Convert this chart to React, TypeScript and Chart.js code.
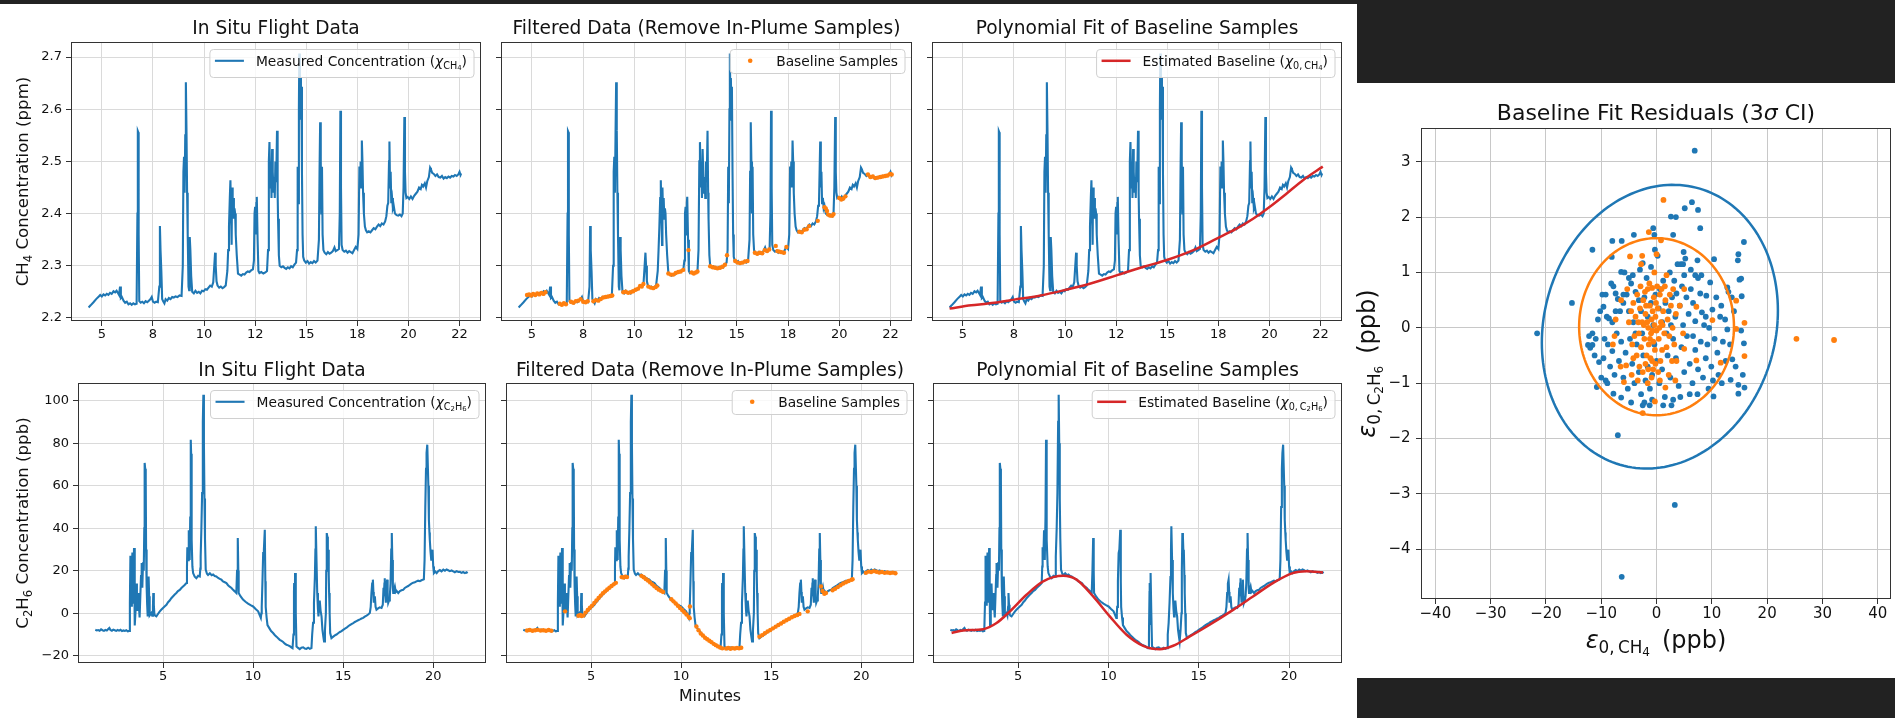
import React, { useEffect, useRef } from 'react';
import { Chart, registerables } from 'chart.js';

Chart.register(...registerables);

const FONT = "'DejaVu Sans', 'Liberation Sans', Arial, sans-serif";
const BLUE = '#1f77b4';
const ORANGE = '#ff7f0e';
const RED = '#d62728';

// ---------------- CH4 (ppm) vs minutes ----------------
const ch4Series: [number, number][] = [
  [4.35, 2.220], [4.45, 2.224], [4.59, 2.230], [4.72, 2.236], [4.85, 2.241], [4.92, 2.244], [5.00, 2.241], [5.08, 2.245],
  [5.16, 2.243], [5.24, 2.246], [5.32, 2.244], [5.40, 2.248], [5.48, 2.246], [5.57, 2.251], [5.65, 2.249], [5.72, 2.252],
  [5.78, 2.248], [5.84, 2.244], [5.89, 2.260], [5.93, 2.238], [5.98, 2.240], [6.06, 2.233], [6.14, 2.229], [6.22, 2.231],
  [6.30, 2.226], [6.38, 2.228], [6.46, 2.225], [6.54, 2.228], [6.62, 2.226], [6.70, 2.227], [6.74, 2.40], [6.76, 2.558],
  [6.78, 2.556], [6.80, 2.36], [6.83, 2.232], [6.90, 2.229], [6.98, 2.231], [7.06, 2.228], [7.14, 2.232], [7.22, 2.230],
  [7.30, 2.233], [7.38, 2.236], [7.44, 2.240], [7.50, 2.231], [7.58, 2.229], [7.66, 2.231], [7.74, 2.230], [7.81, 2.26],
  [7.84, 2.376], [7.87, 2.33], [7.91, 2.29], [7.95, 2.236], [8.00, 2.232], [8.06, 2.228], [8.12, 2.236], [8.20, 2.233],
  [8.28, 2.238], [8.36, 2.236], [8.44, 2.240], [8.52, 2.239], [8.60, 2.241], [8.70, 2.240], [8.80, 2.243], [8.90, 2.242],
  [8.96, 2.30], [8.99, 2.48], [9.02, 2.509], [9.05, 2.44], [9.08, 2.55], [9.11, 2.652], [9.14, 2.56], [9.17, 2.44],
  [9.20, 2.36], [9.24, 2.26], [9.27, 2.253], [9.30, 2.355], [9.33, 2.33], [9.37, 2.28], [9.42, 2.250], [9.50, 2.247],
  [9.58, 2.252], [9.66, 2.248], [9.74, 2.250], [9.82, 2.247], [9.90, 2.252], [9.98, 2.251], [10.06, 2.255], [10.14, 2.254],
  [10.22, 2.258], [10.30, 2.262], [10.38, 2.260], [10.45, 2.268], [10.50, 2.30], [10.54, 2.325], [10.57, 2.30], [10.61, 2.27],
  [10.66, 2.262], [10.74, 2.258], [10.82, 2.260], [10.90, 2.257], [10.98, 2.259], [11.06, 2.262], [11.14, 2.290], [11.18, 2.33],
  [11.22, 2.375], [11.26, 2.43], [11.29, 2.464], [11.32, 2.40], [11.35, 2.34], [11.37, 2.45], [11.40, 2.40], [11.43, 2.43],
  [11.46, 2.39], [11.49, 2.41], [11.52, 2.40], [11.55, 2.36], [11.60, 2.32], [11.66, 2.285], [11.74, 2.283], [11.82, 2.281],
  [11.90, 2.284], [11.98, 2.283], [12.06, 2.287], [12.14, 2.289], [12.22, 2.288], [12.30, 2.291], [12.39, 2.293], [12.44, 2.31],
  [12.47, 2.40], [12.50, 2.413], [12.53, 2.36], [12.56, 2.42], [12.58, 2.432], [12.62, 2.35], [12.66, 2.29], [12.71, 2.286],
  [12.80, 2.288], [12.90, 2.285], [13.00, 2.287], [13.08, 2.290], [13.13, 2.33], [13.17, 2.50], [13.20, 2.537], [13.24, 2.45],
  [13.27, 2.50], [13.30, 2.43], [13.33, 2.524], [13.36, 2.48], [13.40, 2.44], [13.43, 2.47], [13.46, 2.43], [13.49, 2.50],
  [13.53, 2.46], [13.57, 2.559], [13.60, 2.44], [13.62, 2.39], [13.66, 2.32], [13.70, 2.300], [13.78, 2.297], [13.86, 2.299],
  [13.94, 2.296], [14.02, 2.294], [14.10, 2.297], [14.18, 2.295], [14.26, 2.299], [14.34, 2.297], [14.42, 2.302], [14.50, 2.306],
  [14.55, 2.33], [14.58, 2.49], [14.61, 2.42], [14.64, 2.60], [14.66, 2.707], [14.69, 2.60], [14.71, 2.66], [14.74, 2.58],
  [14.76, 2.643], [14.79, 2.48], [14.82, 2.36], [14.85, 2.317], [14.90, 2.310], [14.98, 2.306], [15.06, 2.309], [15.14, 2.304],
  [15.22, 2.307], [15.30, 2.305], [15.38, 2.309], [15.46, 2.306], [15.55, 2.310], [15.62, 2.35], [15.65, 2.48], [15.68, 2.575],
  [15.71, 2.50], [15.74, 2.40], [15.77, 2.49], [15.80, 2.36], [15.84, 2.330], [15.90, 2.325], [15.98, 2.322], [16.06, 2.326],
  [16.14, 2.323], [16.22, 2.325], [16.30, 2.328], [16.38, 2.335], [16.44, 2.328], [16.52, 2.330], [16.60, 2.332], [16.64, 2.40],
  [16.67, 2.597], [16.70, 2.45], [16.73, 2.34], [16.78, 2.330], [16.86, 2.327], [16.94, 2.329], [17.02, 2.325], [17.10, 2.328],
  [17.18, 2.326], [17.26, 2.324], [17.34, 2.330], [17.42, 2.336], [17.50, 2.332], [17.56, 2.36], [17.60, 2.49], [17.63, 2.46],
  [17.66, 2.50], [17.69, 2.45], [17.72, 2.54], [17.75, 2.50], [17.78, 2.44], [17.82, 2.40], [17.87, 2.375], [17.92, 2.368],
  [17.98, 2.364], [18.06, 2.366], [18.14, 2.364], [18.22, 2.368], [18.30, 2.372], [18.38, 2.370], [18.46, 2.375], [18.54, 2.379],
  [18.62, 2.376], [18.70, 2.381], [18.78, 2.379], [18.86, 2.385], [18.92, 2.395], [18.97, 2.415], [19.01, 2.42], [19.05, 2.50],
  [19.07, 2.538], [19.10, 2.45], [19.13, 2.48], [19.16, 2.42], [19.20, 2.43], [19.24, 2.41], [19.28, 2.415], [19.34, 2.400],
  [19.42, 2.397], [19.50, 2.396], [19.58, 2.398], [19.66, 2.395], [19.72, 2.400], [19.76, 2.45], [19.80, 2.585], [19.83, 2.48],
  [19.86, 2.44], [19.90, 2.43], [19.96, 2.432], [20.04, 2.428], [20.12, 2.433], [20.20, 2.428], [20.28, 2.434], [20.36, 2.438],
  [20.44, 2.442], [20.52, 2.450], [20.60, 2.447], [20.66, 2.455], [20.72, 2.452], [20.80, 2.458], [20.86, 2.450], [20.92, 2.462],
  [21.00, 2.470], [21.06, 2.488], [21.10, 2.485], [21.16, 2.478], [21.24, 2.476], [21.32, 2.472], [21.40, 2.475], [21.48, 2.470],
  [21.56, 2.469], [21.64, 2.472], [21.72, 2.467], [21.80, 2.470], [21.88, 2.468], [21.96, 2.471], [22.04, 2.469], [22.12, 2.472],
  [22.20, 2.471], [22.28, 2.474], [22.36, 2.472], [22.44, 2.475], [22.50, 2.480], [22.55, 2.474], [22.58, 2.477],
];

const ch4Baseline: [number, number][] = [
  [4.76, 2.244], [4.86, 2.245], [4.96, 2.243], [5.06, 2.246], [5.16, 2.244], [5.26, 2.247], [5.36, 2.245], [5.46, 2.248],
  [5.56, 2.246], [5.66, 2.249], [6.36, 2.227], [6.46, 2.225], [6.56, 2.228], [6.66, 2.226], [6.90, 2.231], [7.02, 2.229],
  [7.14, 2.232], [7.26, 2.233], [7.38, 2.236], [7.50, 2.231], [7.62, 2.230], [7.72, 2.232], [8.00, 2.232], [8.12, 2.234],
  [8.24, 2.233], [8.36, 2.236], [8.48, 2.239], [8.60, 2.240], [8.72, 2.241], [8.84, 2.242], [8.92, 2.243], [9.46, 2.249],
  [9.58, 2.250], [9.70, 2.248], [9.82, 2.249], [9.94, 2.251], [10.06, 2.254], [10.18, 2.256], [10.28, 2.261], [10.36, 2.260],
  [10.44, 2.265], [10.68, 2.260], [10.80, 2.258], [10.92, 2.257], [11.04, 2.259], [11.12, 2.262], [11.66, 2.285], [11.78, 2.283],
  [11.90, 2.283], [12.02, 2.286], [12.14, 2.288], [12.26, 2.289], [12.38, 2.292], [12.64, 2.330], [12.80, 2.287], [12.90, 2.285],
  [13.00, 2.287], [13.08, 2.289], [13.70, 2.299], [13.82, 2.297], [13.94, 2.296], [14.06, 2.295], [14.18, 2.296], [14.30, 2.298],
  [14.42, 2.302], [14.52, 2.320], [14.92, 2.309], [15.04, 2.306], [15.16, 2.305], [15.28, 2.306], [15.40, 2.308], [15.52, 2.309],
  [15.88, 2.325], [16.00, 2.323], [16.12, 2.325], [16.24, 2.324], [16.36, 2.330], [16.48, 2.328], [16.58, 2.331], [16.90, 2.338],
  [16.98, 2.328], [17.08, 2.327], [17.18, 2.326], [17.30, 2.325], [17.42, 2.336], [18.05, 2.365], [18.17, 2.364], [18.29, 2.369],
  [18.41, 2.370], [18.53, 2.376], [18.95, 2.386], [19.28, 2.412], [19.34, 2.410], [19.40, 2.405], [19.46, 2.398], [19.56, 2.396],
  [19.66, 2.396], [19.72, 2.399], [20.00, 2.430], [20.10, 2.427], [20.20, 2.429], [20.30, 2.433], [21.40, 2.475], [21.52, 2.470],
  [21.64, 2.471], [21.76, 2.468], [21.88, 2.469], [22.00, 2.470], [22.12, 2.471], [22.24, 2.472], [22.36, 2.473], [22.48, 2.476],
  [22.56, 2.475],
];

const ch4Fit: [number, number][] = [
  [4.35, 2.218], [5.41, 2.224], [6.22, 2.2275], [7.52, 2.235], [8.81, 2.243], [9.95, 2.253], [11.25, 2.266], [12.55, 2.282],
  [13.85, 2.298], [14.98, 2.311], [16.28, 2.330], [17.42, 2.352], [18.39, 2.371], [19.20, 2.390], [20.02, 2.413], [20.83, 2.438],
  [21.64, 2.464], [22.61, 2.490],
];

// ---------------- C2H6 (ppb) vs minutes ----------------
const c2h6Series: [number, number][] = [
  [1.24, -7.8], [1.32, -8.1], [1.40, -7.9], [1.48, -8.2], [1.56, -7.6], [1.64, -8.0], [1.72, -8.3], [1.80, -7.8], [1.88, -8.1],
  [1.96, -7.4], [2.02, -6.9], [2.08, -7.9], [2.16, -8.2], [2.24, -7.7], [2.32, -8.0], [2.40, -8.3], [2.48, -7.9], [2.56, -8.2],
  [2.64, -7.8], [2.72, -8.4], [2.80, -8.1], [2.88, -8.3], [2.96, -8.0], [3.04, -8.5], [3.12, -8.3], [3.16, 5], [3.19, 27],
  [3.22, 10], [3.24, 3.5], [3.27, 20], [3.30, 28.6], [3.33, 12], [3.35, 5], [3.37, 22], [3.39, 30.7], [3.42, 8], [3.44, -5.7],
  [3.48, 2], [3.52, 14], [3.55, 6], [3.57, 1.5], [3.60, 5], [3.63, 9.5], [3.66, 4], [3.70, -2], [3.74, 8], [3.78, 18],
  [3.80, 23.6], [3.83, 15], [3.85, 12], [3.89, 24], [3.93, 20], [3.96, 40], [3.98, 70.7], [4.01, 68], [4.04, 62.8], [4.06, 30],
  [4.09, 12.6], [4.12, 4], [4.15, -1.5], [4.18, 5], [4.20, 17.3], [4.23, 8], [4.26, -1], [4.30, -0.5], [4.35, 0.1], [4.40, -1.2],
  [4.44, 3], [4.46, 9.5], [4.49, 4], [4.52, -0.5], [4.57, -1.2], [4.63, -1.5], [4.70, -0.6], [4.81, 0.8], [4.90, 1.6], [5.00, 2.5],
  [5.10, 3.3], [5.19, 4.0], [5.28, 5.2], [5.37, 6.0], [5.46, 7.1], [5.56, 8.0], [5.65, 8.8], [5.74, 9.5], [5.83, 10.4], [5.93, 11.0],
  [6.02, 11.9], [6.11, 12.6], [6.20, 13.3], [6.30, 14.2], [6.33, 22], [6.35, 31], [6.39, 25], [6.43, 39], [6.46, 28], [6.48, 25],
  [6.51, 45], [6.54, 81.6], [6.56, 75], [6.59, 34.6], [6.63, 22], [6.67, 18.9], [6.76, 17.2], [6.85, 16.5], [6.95, 17.6], [7.04, 17.3],
  [7.07, 21], [7.09, 26.7], [7.13, 40], [7.17, 56.5], [7.21, 90], [7.24, 102.8], [7.27, 80], [7.30, 54], [7.33, 35], [7.37, 20.5],
  [7.44, 18.6], [7.50, 18.0], [7.60, 18.8], [7.70, 17.9], [7.78, 18.2], [7.87, 17.5], [7.96, 17.3], [8.06, 16.6], [8.15, 16.2],
  [8.24, 15.8], [8.33, 15.0], [8.43, 14.6], [8.52, 14.2], [8.61, 13.2], [8.70, 12.5], [8.80, 11.9], [8.89, 11.0], [8.98, 10.3],
  [9.07, 9.5], [9.11, 20], [9.15, 35.4], [9.18, 20], [9.20, 9.5], [9.30, 8.0], [9.44, 6.4], [9.58, 5.4], [9.72, 4.5], [9.86, 3.8],
  [10.00, 3.2], [10.14, 2.0], [10.28, 0.9], [10.36, -0.8], [10.43, -2.2], [10.46, 0], [10.48, 3], [10.52, 15], [10.56, 28.3],
  [10.60, 30], [10.65, 39.3], [10.68, 15], [10.70, 3], [10.75, -2], [10.80, -5.6], [10.90, -7.0], [11.00, -8.4], [11.11, -9.3],
  [11.20, -10.2], [11.30, -11.0], [11.39, -11.8], [11.48, -12.5], [11.58, -13.0], [11.67, -13.5], [11.76, -14.3], [11.85, -14.8],
  [11.95, -15.1], [12.04, -15.5], [12.12, -16.0], [12.19, -16.4], [12.24, -10], [12.27, 10], [12.28, 14.2], [12.31, -5],
  [12.33, 18.9], [12.37, 0], [12.41, -15.6], [12.50, -16.3], [12.59, -16.9], [12.68, -16.2], [12.78, -16.0], [12.87, -16.6],
  [12.96, -16.8], [13.06, -16.2], [13.15, -16.7], [13.24, -16.4], [13.28, -10], [13.33, -4.5], [13.38, 5], [13.43, 17],
  [13.46, 30], [13.48, 40.9], [13.52, 25], [13.56, 9.5], [13.60, 2], [13.63, -1.5], [13.66, 3], [13.70, 6], [13.75, 1],
  [13.80, -1.5], [13.85, -7.8], [13.90, -11], [13.94, -13.3], [13.99, -8], [14.04, 0], [14.06, 20], [14.09, 37.7], [14.12, 36],
  [14.15, 28], [14.17, 29.9], [14.20, 18], [14.22, 9.5], [14.25, 0], [14.28, -9.3], [14.35, -11.7], [14.45, -11.0], [14.54, -10.4],
  [14.63, -10.0], [14.72, -9.4], [14.82, -8.8], [14.91, -8.4], [15.00, -7.8], [15.10, -7.2], [15.19, -6.8], [15.28, -6.1],
  [15.37, -5.6], [15.46, -5.1], [15.56, -4.6], [15.65, -4.1], [15.74, -3.7], [15.83, -3.3], [15.93, -2.9], [16.02, -2.5],
  [16.11, -2.2], [16.20, -1.6], [16.30, -1.1], [16.39, -0.6], [16.48, 0.1], [16.53, 3], [16.57, 9.5], [16.61, 14], [16.65, 15.8],
  [16.68, 10], [16.70, 5], [16.73, 7], [16.76, 8], [16.80, 3], [16.85, 1.7], [16.94, 2.3], [17.03, 2.8], [17.13, 2.5], [17.20, 4],
  [17.24, 12], [17.26, 8], [17.29, 14], [17.31, 16.5], [17.34, 9], [17.37, 5], [17.40, 10], [17.44, 15.8], [17.47, 8], [17.50, 4.8],
  [17.55, 6], [17.59, 8], [17.63, 14], [17.67, 30], [17.70, 37.7], [17.73, 25], [17.76, 12], [17.78, 9.5], [17.82, 11], [17.87, 12.6],
  [17.92, 10], [17.97, 10.5], [18.06, 9.5], [18.15, 10.4], [18.24, 10.8], [18.33, 11], [18.42, 11.9], [18.52, 12.4], [18.61, 12.8],
  [18.70, 13.4], [18.79, 13.9], [18.89, 14.4], [18.98, 14.6], [19.07, 15.0], [19.16, 15.3], [19.26, 15.1], [19.35, 15.5],
  [19.42, 15.8], [19.48, 16.0], [19.52, 25], [19.56, 50], [19.60, 68], [19.63, 75.4], [19.67, 79.3], [19.70, 79.3], [19.73, 60],
  [19.76, 44], [19.79, 38], [19.81, 34.6], [19.85, 29], [19.89, 25.2], [19.92, 27], [19.96, 29.9], [20.00, 22], [20.04, 18.9],
  [20.12, 19.6], [20.19, 18.9], [20.28, 19.8], [20.37, 20.3], [20.46, 19.7], [20.56, 20.5], [20.65, 20.0], [20.74, 20.6],
  [20.83, 20.2], [20.92, 19.8], [21.02, 20.1], [21.11, 19.7], [21.20, 19.3], [21.30, 19.8], [21.39, 19.4], [21.48, 19.5],
  [21.57, 19.0], [21.66, 19.4], [21.76, 18.9], [21.85, 19.3], [21.91, 18.9],
];

const c2h6Baseline: [number, number][] = [
  [1.45, -8.1], [1.60, -7.9], [1.75, -8.2], [1.90, -8.0], [2.05, -7.8], [2.20, -8.1], [2.35, -8.0], [2.50, -8.2], [2.65, -7.9],
  [2.80, -8.2], [3.56, 0.9], [4.30, -1.2], [4.40, -0.8], [4.48, -1.3], [4.58, -1.0], [4.70, 0.3], [4.82, 1.5], [4.94, 2.6],
  [5.06, 3.6], [5.18, 4.8], [5.30, 6.0], [5.42, 7.2], [5.54, 8.3], [5.66, 9.4], [5.78, 10.3], [5.90, 11.2], [6.02, 12.0],
  [6.14, 12.8], [6.26, 13.6], [6.38, 14.3], [6.70, 17.0], [6.80, 16.8], [6.90, 17.2], [7.00, 17.0], [7.80, 17.6], [7.92, 16.9],
  [8.04, 16.1], [8.16, 15.4], [8.28, 14.5], [8.40, 13.6], [8.52, 12.7], [8.64, 11.9], [8.76, 11.1], [8.88, 10.6], [9.00, 10.0],
  [9.46, 6.6], [9.58, 5.6], [9.70, 4.6], [9.82, 3.5], [9.94, 2.5], [10.06, 1.5], [10.18, 0.5], [10.30, -0.6], [10.42, -1.7],
  [10.48, -2.3], [10.49, 3.2], [10.85, -6.2], [10.97, -8.0], [11.09, -9.5], [11.21, -10.5], [11.33, -11.5], [11.45, -12.2],
  [11.57, -12.9], [11.69, -13.6], [11.81, -14.4], [11.93, -15.0], [12.05, -15.6], [12.17, -16.1], [12.29, -16.5], [12.50, -16.6],
  [12.62, -16.3], [12.74, -16.7], [12.86, -16.4], [12.98, -16.6], [13.10, -16.3], [13.22, -16.5], [13.34, -16.2], [14.35, -11.0],
  [14.50, -10.3], [14.65, -9.4], [14.80, -8.6], [14.95, -7.9], [15.10, -7.1], [15.25, -6.3], [15.40, -5.5], [15.55, -4.8],
  [15.70, -4.0], [15.85, -3.3], [16.00, -2.6], [16.15, -1.9], [16.30, -1.3], [16.45, -0.8], [16.57, -0.3], [17.03, 0.9],
  [17.77, 12.6], [17.85, 10.5], [17.95, 9.2], [18.04, 9.5], [18.41, 10.8], [18.55, 11.5], [18.70, 12.3], [18.85, 13.2],
  [19.00, 14.0], [19.15, 14.6], [19.30, 15.2], [19.45, 15.7], [19.52, 16.0], [20.26, 19.0], [20.40, 19.6], [20.55, 19.4],
  [20.70, 19.8], [20.85, 19.5], [21.00, 19.2], [21.15, 19.4], [21.30, 19.0], [21.45, 19.2], [21.60, 18.9], [21.75, 19.1],
  [21.90, 18.8],
];

const c2h6Fit: [number, number][] = [
  [1.31, -9.3], [1.95, -8.1], [3.06, -7.5], [3.80, -4.6], [4.54, 0.9], [5.46, 8.7], [6.38, 15.0], [7.49, 17.6], [8.23, 15.8],
  [9.15, 7.9], [10.07, -1.5], [11.00, -10.1], [11.92, -15.3], [12.84, -16.9], [13.58, -15.3], [14.50, -10.9], [15.60, -5.4],
  [16.90, 1.6], [18.00, 7.9], [19.10, 14.2], [20.20, 18.9], [20.96, 19.7], [21.88, 19.2],
];

// ---------------- residuals (CH4 ppb, C2H6 ppb) ----------------
const residualsBlue: [number, number][] = [
  [6.9, 3.2], [6.4, 2.27], [5.1, 2.16], [7.5, 2.13], [2.6, 2.01], [3.5, 2.0], [7.9, 1.8], [-0.6, 1.8], [3.0, 1.68], [-4.1, 1.68],
  [-0.4, 1.68], [-8, 1.57], [-6.3, 1.57], [15.8, 1.55], [-11.6, 1.41], [-0.3, 1.41], [4.9, 1.37], [14.8, 1.33], [14.7, 1.22],
  [10.4, 1.24], [7.4, 1.22], [4.4, 1.15], [4.8, 1.15], [-2.5, 1.17], [-8.1, 1.28], [-6.4, 1.01], [15, 0.87], [15.3, 0.89],
  [12.8, 0.73], [15.4, 0.57], [9.7, 0.82], [-15.3, 0.45], [-21.6, -0.1], [-12.4, -0.31], [-11.6, -0.31], [-12, -0.36],
  [-10.8, -1.07], [14.8, -1.19], [10.3, -1.24], [7.4, -1.2], [14.8, -1.03], [15.8, -0.28], [15.3, -0.05], [2.7, -1.4],
  [-2.5, -1.4], [-1.25, -1.4], [-6.4, -1.26], [-7.8, -1.19], [-7, -1.94], [3.3, -3.2], [-6.3, -4.5], [13.4, -0.94],
  [13.7, -0.57], [12.8, -0.03], [-11.6, -0.1], [-11.0, -0.2], [-12.2, -0.15], [-9.8, 0.6], [-9.2, 0.6], [-9.6, 0.38],
  [-9.0, 0.2], [-8.6, 0.17], [-8.2, 0.8], [-7.8, 0.75], [-7.4, 0.62], [-7.0, 0.52], [-6.6, 0.3], [-6.0, 0.45], [-5.4, 0.6],
  [-5.0, 0.9], [-4.6, 0.8], [-4.3, 0.95], [-3.8, 0.65], [-3.2, 0.5], [-2.8, 0.3], [-2.2, 0.55], [-1.6, 0.2], [-1.0, 0.45],
  [-0.2, 0.6], [0.4, 0.35], [1.0, 0.1], [1.8, -0.1], [2.2, 0.3], [2.8, 0.55], [3.2, 0.85], [3.6, 0.62], [4.2, 0.4], [4.6, 0.75],
  [5.0, 0.95], [5.4, 0.55], [5.8, 0.25], [6.2, 0.7], [6.6, 0.45], [7.0, 0.12], [7.5, 0.9], [7.9, 0.62], [8.2, 0.28], [8.6, 0.05],
  [9.0, 0.58], [9.5, 0.0], [10.1, 0.33], [10.5, -0.2], [11.0, -0.45], [11.5, 0.2], [12.0, -0.25], [12.5, -0.6], [13.0, 0.65],
  [13.3, -0.3], [14.0, 0.3], [14.3, -0.7], [15.6, -0.85], [15.9, -1.08], [-10.4, -0.62], [-10.0, -0.9], [-9.6, -0.55],
  [-9.2, -0.95], [-8.8, -0.3], [-8.4, -0.7], [-8.0, -0.42], [-7.6, -0.85], [-7.2, -0.1], [-6.8, -0.6], [-6.4, -0.25], [-6.0, -0.9],
  [-5.6, -0.45], [-5.2, -1.1], [-4.8, -0.2], [-4.4, -0.65], [-4.0, -1.0], [-3.6, -0.3], [-3.2, -0.8], [-2.8, -1.2], [-2.4, -0.5],
  [-2.0, -0.95], [-1.6, -0.7], [-1.2, -1.1], [-0.8, -0.85], [-0.4, -0.3], [0.0, -0.6], [0.5, -1.0], [1.0, -0.75], [1.5, -1.25],
  [2.0, -0.5], [2.5, -0.9], [3.0, -0.2], [3.5, -0.55], [4.0, -1.05], [4.5, -0.35], [5.0, -0.8], [5.5, -0.15], [6.0, -0.65],
  [6.5, -1.0], [7.0, -0.4], [7.5, -0.75], [8.0, -0.25], [8.4, -0.9], [8.9, -0.55], [9.4, -1.1], [9.9, -0.7], [10.2, -0.95],
  [11.2, -0.85], [11.8, -1.0], [-11.2, -0.5], [-10.6, 0.15], [-10.2, 0.3], [-9.4, -0.2], [-8.0, 0.1], [-7.4, 0.3], [-5.8, 1.0],
  [-5.0, 0.3], [-4.2, 0.1], [-3.0, 1.05], [-1.8, 0.9], [-1.0, 1.1], [0.2, 1.3], [1.2, 0.85], [2.4, 1.0], [3.8, 1.15], [5.2, 1.25],
  [6.2, 1.05], [7.0, 0.95], [8.1, 0.95], [8.9, 0.2], [9.2, -0.3], [10.8, 0.55], [11.7, 0.4], [12.4, 0.15], [13.6, 0.55],
  [-2.2, -1.35], [-0.8, -1.3], [1.2, -1.4], [3.0, -1.3], [4.3, -1.25], [6.0, -1.2], [-4.6, -1.35], [-8.9, -1.0], [-6.0, 0.6],
  [-3.8, -0.1], [0.6, 0.7], [2.6, 0.05], [4.8, 0.05], [6.6, -0.15], [-0.6, 0.05], [-2.6, -0.1], [1.6, 0.45], [3.4, 0.2],
];

const residualsOrange: [number, number][] = [
  [25.3, -0.2], [32.1, -0.22], [1.25, 2.31], [-1.4, 1.73], [0.8, 1.58], [0, 1.33], [-4.8, 1.29], [-2.8, 1.15], [15.9, 0.09],
  [15.9, -0.51], [14.4, 0.49], [11.6, -0.63], [14.4, -0.02], [10.1, 0.14], [-2.5, -1.54], [1.6, -1.08], [-0.3, -1.33],
  [-5.9, -0.98], [5.0, 0.7], [7.2, 0.38], [5.0, -0.38], [7.2, -0.59], [-7.4, 0.15], [-6.4, 0.5], [-7.6, -0.15], [-5.5, -0.68],
  [-4.5, -0.85], [3.6, -0.6], [2.2, -0.85], [-4.2, 0.45], [-3.8, 0.2], [-3.5, 0.6], [-3.2, -0.1], [-3.0, 0.35], [-2.8, -0.35],
  [-2.6, 0.1], [-2.4, 0.5], [-2.2, -0.2], [-2.0, 0.25], [-1.8, -0.5], [-1.6, 0.7], [-1.5, 0.0], [-1.4, -0.3], [-1.2, 0.4],
  [-1.0, -0.1], [-0.9, 0.15], [-0.8, -0.6], [-0.7, 0.3], [-0.6, -0.25], [-0.5, 0.55], [-0.4, 0.05], [-0.3, -0.4], [-0.2, 0.2],
  [0.0, -0.05], [0.2, 0.35], [0.4, -0.2], [0.6, 0.6], [0.8, 0.1], [1.0, -0.4], [1.2, 0.3], [1.4, -0.1], [1.6, 0.5], [1.8, -0.35],
  [2.0, 0.15], [2.3, -0.15], [2.6, 0.4], [2.9, 0.0], [3.2, -0.3], [3.5, 0.25], [-3.6, -0.5], [-3.1, -0.7], [-2.5, -0.8],
  [-2.0, -0.65], [-1.5, -0.75], [-1.1, -0.55], [-0.6, -0.75], [-0.2, -0.65], [0.3, -0.8], [0.7, -0.6], [-2.9, 0.75], [-2.1, 0.65],
  [-1.3, 0.8], [-0.8, 0.72], [0.1, 0.75], [0.9, 0.7], [1.5, 0.75], [-4.4, -0.3], [-4.0, -0.15], [-1.7, 0.1], [-0.1, 0.45],
  [0.5, 0.0], [-2.3, 0.05], [-1.2, -0.2], [1.1, 0.05], [-0.7, -0.05], [-1.9, 0.4], [-3.3, 0.1], [2.4, 0.6], [-5.0, 0.1],
  [-4.6, 0.3], [-1.6, -1.0], [-0.9, -0.9], [0.6, -0.95], [-3.4, -0.95], [2.8, -0.6], [4.2, 0.4], [3.0, 0.7], [-5.3, 0.7],
  [-2.6, 1.3], [1.8, 0.95], [-0.4, 1.0], [4.8, -0.1], [-6.5, -0.7], [3.4, -0.95], [-7.9, -0.3], [-4.2, -0.55],
];

// 3-sigma confidence ellipses: [blue, orange]
const ellipseColors = [BLUE, ORANGE];
const ellipseCenterX = [0.6, 0.0];
const ellipseCenterY = [0.02, 0.02];
const ellipseHalfX = [21.3, 14.0];
const ellipseHalfY = [2.56, 1.6];
const ellipseSkewX = [1.4, 0.0];
const ellipseSkewY = [0.12, 0.0];

// ---------------- ticks ----------------
const topXTicks = [5, 7.5, 10, 12.5, 15, 17.5, 20, 22.5];
const topXLabels = ['5', '8', '10', '12', '15', '18', '20', '22'];
const topYTicks = [2.2, 2.3, 2.4, 2.5, 2.6, 2.7];
const topYLabels = ['2.2', '2.3', '2.4', '2.5', '2.6', '2.7'];
const botXTicks = [5, 10, 15, 20];
const botXLabels = ['5', '10', '15', '20'];
const botYTicks = [-20, 0, 20, 40, 60, 80, 100];
const botYLabels = ['\u221220', '0', '20', '40', '60', '80', '100'];
const resXTicks = [-40, -30, -20, -10, 0, 10, 20, 30, 40];
const resXLabels = ['\u221240', '\u221230', '\u221220', '\u221210', '0', '10', '20', '30', '40'];
const resYTicks = [-4, -3, -2, -1, 0, 1, 2, 3];
const resYLabels = ['\u22124', '\u22123', '\u22122', '\u22121', '0', '1', '2', '3'];

// ---------------- rich text ----------------
type Seg = { t: string; s?: number; dy?: number; it?: boolean };
const fontStr = (size: number, it?: boolean) => `${it ? 'italic ' : ''}${size}px ${FONT}`;

function richWidth(ctx: CanvasRenderingContext2D, segs: Seg[], size: number) {
  let w = 0;
  for (const s of segs) {
    ctx.font = fontStr(size * (s.s ?? 1), s.it);
    w += ctx.measureText(s.t).width;
  }
  return w;
}

function drawRich(ctx: CanvasRenderingContext2D, segs: Seg[], x: number, y: number, size: number, align: 'left' | 'center', color = '#111') {
  const w = richWidth(ctx, segs, size);
  let cx = align === 'center' ? x - w / 2 : x;
  const base = y + size * 0.36;
  ctx.fillStyle = color;
  ctx.textAlign = 'left';
  ctx.textBaseline = 'alphabetic';
  for (const s of segs) {
    ctx.font = fontStr(size * (s.s ?? 1), s.it);
    ctx.fillText(s.t, cx, base + size * (s.dy ?? 0));
    cx += ctx.measureText(s.t).width;
  }
}

const SUB = 0.7, SUBSUB = 0.5, D1 = 0.22, D2 = 0.34;
const legMeasuredCH4: Seg[] = [{ t: 'Measured Concentration (' }, { t: '\u03c7', it: true }, { t: 'CH', s: SUB, dy: D1 }, { t: '4', s: SUBSUB, dy: D2 }, { t: ')' }];
const legMeasuredC2H6: Seg[] = [{ t: 'Measured Concentration (' }, { t: '\u03c7', it: true }, { t: 'C', s: SUB, dy: D1 }, { t: '2', s: SUBSUB, dy: D2 }, { t: 'H', s: SUB, dy: D1 }, { t: '6', s: SUBSUB, dy: D2 }, { t: ')' }];
const legBaseline: Seg[] = [{ t: 'Baseline Samples' }];
const legEstCH4: Seg[] = [{ t: 'Estimated Baseline (' }, { t: '\u03c7', it: true }, { t: '0,\u2009CH', s: SUB, dy: D1 }, { t: '4', s: SUBSUB, dy: D2 }, { t: ')' }];
const legEstC2H6: Seg[] = [{ t: 'Estimated Baseline (' }, { t: '\u03c7', it: true }, { t: '0,\u2009C', s: SUB, dy: D1 }, { t: '2', s: SUBSUB, dy: D2 }, { t: 'H', s: SUB, dy: D1 }, { t: '6', s: SUBSUB, dy: D2 }, { t: ')' }];
const yLabCH4: Seg[] = [{ t: 'CH' }, { t: '4', s: SUB, dy: 0.2 }, { t: ' Concentration (ppm)' }];
const yLabC2H6: Seg[] = [{ t: 'C' }, { t: '2', s: SUB, dy: 0.2 }, { t: 'H' }, { t: '6', s: SUB, dy: 0.2 }, { t: ' Concentration (ppb)' }];
const xLabMinutes: Seg[] = [{ t: 'Minutes' }];
const resYLab: Seg[] = [{ t: '\u03b5', it: true }, { t: '0,\u2009C', s: SUB, dy: D1 }, { t: '2', s: SUBSUB, dy: D2 }, { t: 'H', s: SUB, dy: D1 }, { t: '6', s: SUBSUB, dy: D2 }, { t: '\u2002(ppb)' }];
const resXLab: Seg[] = [{ t: '\u03b5', it: true }, { t: '0,\u2009CH', s: SUB, dy: D1 }, { t: '4', s: SUBSUB, dy: D2 }, { t: '\u2002(ppb)' }];
const resTitle: Seg[] = [{ t: 'Baseline Fit Residuals (3' }, { t: '\u03c3', it: true }, { t: ' CI)' }];

// ---------------- panel configs ----------------
type Legend = { segs: Seg[]; kind: 'line' | 'dot'; color: string; h: number; lw?: number };
type PanelCfg = {
  key: string;
  area: [number, number, number, number];
  margins: [number, number, number, number];
  x: [number, number, number[], string[]];
  y: [number, number, number[], string[]];
  showY: boolean;
  datasets: any[];
  title: Seg[]; titleSize: number; titleGap: number;
  ylabel?: Seg[]; ylabelSize?: number; ylabelGap?: number;
  xlabel?: Seg[]; xlabelSize?: number; xlabelGap?: number;
  legend?: Legend;
  ellipses?: boolean;
  tickSize: number; grid: string; xPad: number; yPad: number; chartType: any;
};

const pts = (arr: [number, number][]) => arr.map(([x, y]) => ({ x, y }));
const blueLine = (arr: [number, number][]) => ({ type: 'line', data: pts(arr), borderColor: BLUE, borderWidth: 2.1, pointRadius: 0, tension: 0, order: 2 });
const orangeDots = (arr: [number, number][]) => ({ type: 'scatter', data: pts(arr), backgroundColor: ORANGE, borderWidth: 0, pointRadius: 2.2, order: 0 });
const redFit = (arr: [number, number][]) => ({ type: 'line', data: pts(arr), borderColor: RED, borderWidth: 2.5, pointRadius: 0, cubicInterpolationMode: 'monotone', order: 0 });

const TOPX: [number, number, number[], string[]] = [3.49, 23.55, topXTicks, topXLabels];
const TOPY: [number, number, number[], string[]] = [2.194, 2.729, topYTicks, topYLabels];
const BOTX: [number, number, number[], string[]] = [0.28, 22.93, botXTicks, botXLabels];
const BOTY: [number, number, number[], string[]] = [-23.4, 108.3, botYTicks, botYLabels];

const common = { tickSize: 13, grid: '#dadada', xPad: 1, yPad: 4, titleSize: 18.6, titleGap: 14.5, chartType: 'line' };

const PANELS: PanelCfg[] = [
  { key: 'p1', area: [71, 42, 481, 321], margins: [70, 40, 8, 30], x: TOPX, y: TOPY, showY: true,
    datasets: [blueLine(ch4Series)], title: [{ t: 'In Situ Flight Data' }], ylabel: yLabCH4, ylabelSize: 16.6, ylabelGap: 48.5,
    legend: { segs: legMeasuredCH4, kind: 'line', color: BLUE, h: 28, lw: 2.1 }, ...common },
  { key: 'p2', area: [501, 42, 912, 321], margins: [70, 40, 8, 30], x: TOPX, y: TOPY, showY: false,
    datasets: [blueLine(ch4Series), orangeDots(ch4Baseline)], title: [{ t: 'Filtered Data (Remove In-Plume Samples)' }],
    legend: { segs: legBaseline, kind: 'dot', color: ORANGE, h: 24 }, ...common },
  { key: 'p3', area: [932, 42, 1342, 321], margins: [70, 40, 8, 30], x: TOPX, y: TOPY, showY: false,
    datasets: [blueLine(ch4Series), redFit(ch4Fit)], title: [{ t: 'Polynomial Fit of Baseline Samples' }],
    legend: { segs: legEstCH4, kind: 'line', color: RED, h: 28, lw: 2.5 }, ...common },
  { key: 'p4', area: [78, 383, 486, 663], margins: [70, 40, 8, 45], x: BOTX, y: BOTY, showY: true,
    datasets: [blueLine(c2h6Series)], title: [{ t: 'In Situ Flight Data' }], ylabel: yLabC2H6, ylabelSize: 16.6, ylabelGap: 55.5,
    legend: { segs: legMeasuredC2H6, kind: 'line', color: BLUE, h: 28, lw: 2.1 }, ...common, titleGap: 13.8 },
  { key: 'p5', area: [506, 383, 914, 663], margins: [70, 40, 8, 45], x: BOTX, y: BOTY, showY: false,
    datasets: [blueLine(c2h6Series), orangeDots(c2h6Baseline)], title: [{ t: 'Filtered Data (Remove In-Plume Samples)' }],
    xlabel: xLabMinutes, xlabelSize: 15.8, xlabelGap: 32.2,
    legend: { segs: legBaseline, kind: 'dot', color: ORANGE, h: 24 }, ...common, titleGap: 13.8 },
  { key: 'p6', area: [933, 383, 1342, 663], margins: [70, 40, 8, 45], x: BOTX, y: BOTY, showY: false,
    datasets: [blueLine(c2h6Series), redFit(c2h6Fit)], title: [{ t: 'Polynomial Fit of Baseline Samples' }],
    legend: { segs: legEstC2H6, kind: 'line', color: RED, h: 28, lw: 2.5 }, ...common, titleGap: 13.8 },
  { key: 'p7', area: [1421, 128, 1891, 599], margins: [72, 45, 4, 62], x: [-42.6, 42.4, resXTicks, resXLabels],
    y: [-4.9, 3.61, resYTicks, resYLabels], showY: true,
    datasets: [
      { type: 'scatter', data: pts(residualsBlue), backgroundColor: BLUE, borderWidth: 0, pointRadius: 2.9, order: 1 },
      { type: 'scatter', data: pts(residualsOrange), backgroundColor: ORANGE, borderWidth: 0, pointRadius: 2.9, order: 0 },
    ],
    title: resTitle, titleSize: 22, titleGap: 16, ylabel: resYLab, ylabelSize: 24, ylabelGap: 55,
    xlabel: resXLab, xlabelSize: 24, xlabelGap: 40.5, ellipses: true,
    tickSize: 15, grid: '#c8c8c8', xPad: 1, yPad: 5.5, chartType: 'scatter' },
];

function roundRectPath(ctx: CanvasRenderingContext2D, x: number, y: number, w: number, h: number, r: number) {
  ctx.beginPath();
  ctx.moveTo(x + r, y);
  ctx.arcTo(x + w, y, x + w, y + h, r);
  ctx.arcTo(x + w, y + h, x, y + h, r);
  ctx.arcTo(x, y + h, x, y, r);
  ctx.arcTo(x, y, x + w, y, r);
  ctx.closePath();
}

function makeDeco(cfg: PanelCfg) {
  return {
    id: 'deco',
    afterDatasetsDraw(chart: any) {
      const ctx: CanvasRenderingContext2D = chart.ctx;
      const ca = chart.chartArea;
      ctx.save();
      if (cfg.ellipses) {
        const xs = chart.scales.x, ys = chart.scales.y;
        for (let i = 0; i < ellipseColors.length; i++) {
          ctx.beginPath();
          for (let k = 0; k <= 180; k++) {
            const a = (k / 180) * Math.PI * 2;
            const vx = ellipseCenterX[i] + ellipseHalfX[i] * Math.cos(a) + ellipseSkewX[i] * Math.sin(a);
            const vy = ellipseCenterY[i] + ellipseHalfY[i] * Math.sin(a) + ellipseSkewY[i] * Math.cos(a);
            const px = xs.getPixelForValue(vx), py = ys.getPixelForValue(vy);
            if (k === 0) ctx.moveTo(px, py); else ctx.lineTo(px, py);
          }
          ctx.strokeStyle = ellipseColors[i];
          ctx.lineWidth = 2.5;
          ctx.stroke();
        }
      }
      ctx.strokeStyle = '#333';
      ctx.lineWidth = 1;
      ctx.strokeRect(Math.round(ca.left) + 0.5, Math.round(ca.top) + 0.5, Math.round(ca.right - ca.left) - 1, Math.round(ca.bottom - ca.top) - 1);
      ctx.restore();
    },
    afterDraw(chart: any) {
      const ctx: CanvasRenderingContext2D = chart.ctx;
      const ca = chart.chartArea;
      ctx.save();
      const cxm = (ca.left + ca.right) / 2;
      drawRich(ctx, cfg.title, cxm, ca.top - cfg.titleGap, cfg.titleSize, 'center');
      if (cfg.ylabel) {
        ctx.save();
        ctx.translate(ca.left - (cfg.ylabelGap as number), (ca.top + ca.bottom) / 2);
        ctx.rotate(-Math.PI / 2);
        drawRich(ctx, cfg.ylabel, 0, 0, cfg.ylabelSize as number, 'center');
        ctx.restore();
      }
      if (cfg.xlabel) {
        drawRich(ctx, cfg.xlabel, cxm, ca.bottom + (cfg.xlabelGap as number), cfg.xlabelSize as number, 'center');
      }
      if (cfg.legend) {
        const L = cfg.legend;
        const fs = 13.8;
        const tw = richWidth(ctx, L.segs, fs);
        const bw = 46 + tw + 7;
        const bx = ca.right - 7 - bw;
        const by = ca.top + 7.5;
        roundRectPath(ctx, bx, by, bw, L.h, 3.5);
        ctx.fillStyle = 'rgba(255,255,255,0.8)';
        ctx.fill();
        ctx.strokeStyle = '#d0d0d0';
        ctx.lineWidth = 1;
        ctx.stroke();
        const ty = by + 11.3;
        if (L.kind === 'line') {
          ctx.beginPath();
          ctx.moveTo(bx + 5, ty);
          ctx.lineTo(bx + 34, ty);
          ctx.strokeStyle = L.color;
          ctx.lineWidth = L.lw ?? 2;
          ctx.stroke();
        } else {
          ctx.beginPath();
          ctx.arc(bx + 20, ty, 2.3, 0, Math.PI * 2);
          ctx.fillStyle = L.color;
          ctx.fill();
        }
        drawRich(ctx, L.segs, bx + 46, ty, fs, 'left');
      }
      ctx.restore();
    },
  };
}

function buildConfig(cfg: PanelCfg): any {
  const [ml, mt, mr, mb] = cfg.margins;
  const yW = 40, xH = 25;
  const [xMin, xMax, xTicks, xLabels] = cfg.x;
  const [yMin, yMax, yTicks, yLabels] = cfg.y;
  const gridOpts = { color: cfg.grid, lineWidth: 1, tickColor: '#333', tickLength: 5, tickWidth: 1, drawTicks: true };
  return {
    type: cfg.chartType,
    data: { datasets: cfg.datasets },
    options: {
      animation: false,
      responsive: false,
      maintainAspectRatio: false,
      devicePixelRatio: 1,
      events: [],
      layout: { autoPadding: false, padding: { left: ml - yW, top: mt, right: mr, bottom: mb - xH } },
      plugins: { legend: { display: false }, tooltip: { enabled: false }, title: { display: false } },
      scales: {
        x: {
          type: 'linear', min: xMin, max: xMax,
          afterBuildTicks: (s: any) => { s.ticks = xTicks.map((v) => ({ value: v })); },
          afterFit: (s: any) => { s.height = xH; },
          ticks: { callback: (_v: any, i: number) => xLabels[i], font: { family: FONT, size: cfg.tickSize }, color: '#111', padding: cfg.xPad, maxRotation: 0, autoSkip: false },
          grid: gridOpts,
          border: { display: false },
        },
        y: {
          type: 'linear', min: yMin, max: yMax,
          afterBuildTicks: (s: any) => { s.ticks = yTicks.map((v) => ({ value: v })); },
          afterFit: (s: any) => { s.width = yW; },
          ticks: { display: cfg.showY, callback: (_v: any, i: number) => yLabels[i], font: { family: FONT, size: cfg.tickSize }, color: '#111', padding: cfg.yPad, autoSkip: false },
          grid: gridOpts,
          border: { display: false },
        },
      },
    },
    plugins: [makeDeco(cfg)],
  };
}

function PanelChart({ cfg }: { cfg: PanelCfg }) {
  const ref = useRef<HTMLCanvasElement>(null);
  const [l, t, r, b] = cfg.area;
  const [ml, mt, mr, mb] = cfg.margins;
  const W = r - l + ml + mr;
  const H = b - t + mt + mb;
  useEffect(() => {
    if (!ref.current) return;
    const chart = new Chart(ref.current, buildConfig(cfg));
    return () => chart.destroy();
  }, [cfg]);
  return (
    <canvas
      ref={ref}
      width={W}
      height={H}
      style={{ position: 'absolute', left: l - ml, top: t - mt, width: W, height: H }}
    />
  );
}

export default function App() {
  return (
    <div style={{ position: 'absolute', left: 0, top: 0, width: 1895, height: 718, background: '#222222', overflow: 'hidden' }}>
      <div style={{ position: 'absolute', left: 0, top: 4, width: 1357, height: 714, background: '#ffffff' }} />
      <div style={{ position: 'absolute', left: 1357, top: 83, width: 538, height: 595, background: '#ffffff' }} />
      {PANELS.map((p) => (
        <PanelChart key={p.key} cfg={p} />
      ))}
    </div>
  );
}
